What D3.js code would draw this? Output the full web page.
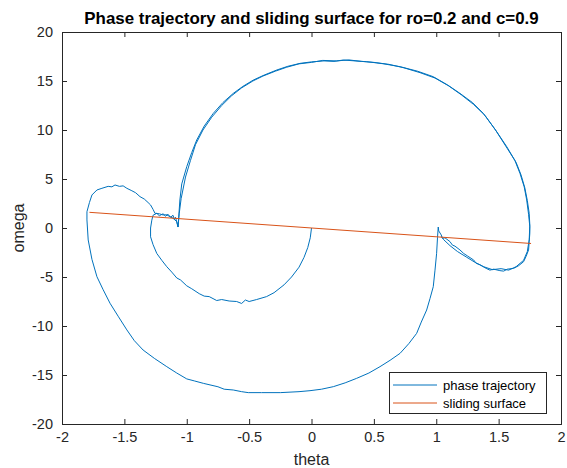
<!DOCTYPE html>
<html>
<head>
<meta charset="utf-8">
<script src="https://cdn.jsdelivr.net/npm/d3@7"></script>
<style>
  html, body { margin: 0; padding: 0; background: #fff; }
  svg { display: block; font-family: "Liberation Sans", Arial, Helvetica, sans-serif; }
</style>
</head>
<body>
<svg id="chart" width="567" height="468"></svg>
<script>
// ---- data ----
const titleText = "Phase trajectory and sliding surface for ro=0.2 and c=0.9";
const xLabel = "theta";
const yLabel = "omega";
const xTicks = [-2, -1.5, -1, -0.5, 0, 0.5, 1, 1.5, 2];
const yTicks = [-20, -15, -10, -5, 0, 5, 10, 15, 20];
const seriesNames = ["phase trajectory", "sliding surface"];

const surfaceTheta = [-1.78, 1.76];
const surfaceOmega = [1.60, -1.58];

// inner spiral from origin to the sliding surface
const innerTheta = [0.00,-0.01,-0.03,-0.06,-0.10,-0.16,-0.22,-0.30,-0.36,-0.44,-0.50,-0.53,-0.56,-0.60,-0.66,-0.72,-0.76,-0.82,-0.86,-0.90,-0.96,-1.00,-1.05,-1.08,-1.12,-1.16,-1.20,-1.24,-1.27,-1.29,-1.29,-1.28,-1.27,-1.24,-1.22,-1.19,-1.17,-1.15,-1.13,-1.11,-1.10,-1.09,-1.08,-1.07];
const innerOmega = [0.00,-1.0,-2.0,-3.0,-4.0,-5.0,-5.8,-6.6,-7.0,-7.3,-7.5,-7.35,-7.7,-7.5,-7.45,-7.3,-7.4,-7.0,-6.95,-6.7,-6.2,-5.9,-5.3,-5.1,-4.5,-3.95,-3.3,-2.6,-1.7,-0.9,0.0,0.8,1.3,1.5,1.25,1.45,1.2,1.4,1.1,1.3,0.9,1.1,0.6,0.1];

// big upper arc and right lobe
const arcTheta = [-1.07,-1.065,-1.055,-1.04,-1.00,-0.96,-0.92,-0.86,-0.787,-0.71,-0.627,-0.55,-0.466,-0.38,-0.279,-0.19,-0.092,0.00,0.10,0.18,0.255,0.35,0.44,0.52,0.58,0.71,0.85,0.976,1.09,1.19,1.29,1.377,1.47,1.565,1.63,1.671,1.705,1.725,1.74,1.75,1.75,1.745,1.74,1.72,1.70,1.66,1.62,1.57,1.54,1.51,1.46,1.43,1.40,1.35,1.32,1.30,1.25,1.22,1.19,1.15,1.13,1.11,1.07,1.05,1.04,1.02,1.016];
const arcOmega = [0.10,1.0,2.86,4.5,6.26,7.7,8.98,10.4,11.7,12.8,13.74,14.45,15.1,15.6,16.12,16.5,16.8,16.95,17.05,17.0,17.14,17.05,16.97,16.85,16.75,16.46,16.0,15.44,14.6,13.74,12.8,11.7,10.1,8.3,6.9,5.58,4.2,2.86,1.4,0.13,-0.54,-1.4,-2.24,-2.9,-3.44,-3.85,-4.12,-4.2,-4.4,-4.35,-4.2,-4.3,-4.12,-3.75,-3.6,-3.27,-2.85,-2.6,-2.24,-1.85,-1.75,-1.39,-1.0,-1.05,-0.71,-0.3,0.1];

// big lower arc and left lobe
const lowerTheta = [1.016,1.010,1.003,0.99,0.976,0.95,0.923,0.88,0.843,0.78,0.71,0.63,0.549,0.46,0.362,0.27,0.175,0.08,-0.012,-0.10,-0.25,-0.40,-0.507,-0.56,-0.627,-0.70,-0.75,-0.867,-0.94,-1.00,-1.08,-1.16,-1.26,-1.35,-1.42,-1.48,-1.55,-1.615,-1.67,-1.72,-1.76,-1.79,-1.80,-1.80,-1.78,-1.76,-1.72,-1.68,-1.63,-1.60,-1.575,-1.54,-1.51,-1.48,-1.44,-1.41,-1.375,-1.34,-1.31,-1.29,-1.27,-1.255,-1.22,-1.19,-1.16,-1.135,-1.11,-1.08,-1.07];
const lowerOmega = [0.10,-1.0,-2.58,-4.3,-5.99,-7.2,-8.37,-9.6,-10.75,-11.8,-12.79,-13.5,-14.15,-14.8,-15.34,-15.8,-16.19,-16.45,-16.6,-16.7,-16.8,-16.8,-16.8,-16.7,-16.53,-16.45,-16.2,-15.85,-15.6,-15.4,-14.8,-14.15,-13.3,-12.45,-11.5,-10.4,-9.0,-7.68,-6.3,-4.97,-3.2,-1.22,0.82,1.66,2.6,3.37,3.88,4.05,4.25,4.2,4.39,4.25,4.3,4.05,3.8,3.6,3.2,2.95,2.6,2.35,1.9,1.5,1.45,1.33,1.35,1.15,1.0,0.65,0.13];

// second pass over the upper arc
const arc2Theta = [-1.07,-1.06,-1.045,-1.01,-0.97,-0.93,-0.87,-0.80,-0.72,-0.64,-0.56,-0.47,-0.39,-0.29,-0.20,-0.10,0.00,0.09,0.20,0.30,0.40,0.50,0.62,0.74,0.87,0.99,1.10,1.20,1.30,1.39,1.48,1.57,1.64,1.68,1.71,1.73,1.745,1.75,1.745,1.73,1.70,1.64,1.58,1.52,1.45,1.38,1.31,1.24,1.17,1.11,1.06,1.04];
const arc2Omega = [0.10,1.5,3.0,5.2,6.9,8.5,10.0,11.3,12.5,13.5,14.3,15.0,15.5,16.0,16.4,16.75,16.9,17.1,17.05,17.15,17.0,16.9,16.7,16.35,15.85,15.3,14.5,13.6,12.6,11.5,9.9,8.1,6.7,5.4,4.1,2.8,1.5,0.3,-1.2,-2.4,-3.3,-3.95,-4.3,-4.15,-4.25,-3.95,-3.5,-2.95,-2.4,-1.8,-1.2,-0.85];

// ---- layout ----
const W = 567, H = 468;
const margin = {left: 62, right: 6, top: 32, bottom: 44};
const iw = W - margin.left - margin.right;
const ih = H - margin.top - margin.bottom;
const axisColor = "#262626";
const blue = "#0072BD", orange = "#D95319";

const svg = d3.select("#chart");
const x = d3.scaleLinear().domain([-2, 2]).range([margin.left, margin.left + iw]);
const y = d3.scaleLinear().domain([-20, 20]).range([margin.top + ih, margin.top]);

svg.append("clipPath").attr("id", "clip")
  .append("rect").attr("x", margin.left).attr("y", margin.top).attr("width", iw).attr("height", ih);

const plot = svg.append("g").attr("clip-path", "url(#clip)");
const line = d3.line().x(d => x(d[0])).y(d => y(d[1]));
const zipPts = (a, b) => a.map((v, i) => [v, b[i]]);

const trajSegments = [
  zipPts(innerTheta, innerOmega),
  zipPts(arcTheta, arcOmega),
  zipPts(lowerTheta, lowerOmega),
  zipPts(arc2Theta, arc2Omega)
];
trajSegments.forEach(seg => {
  plot.append("path").attr("d", line(seg)).attr("fill", "none")
    .attr("stroke", blue).attr("stroke-width", 1).attr("stroke-linejoin", "round");
});
plot.append("path").attr("d", line(zipPts(surfaceTheta, surfaceOmega))).attr("fill", "none")
  .attr("stroke", orange).attr("stroke-width", 1);

// axes (MATLAB style: ticks inward on all four sides)
const tl = 5;
const gx = svg.append("g").attr("transform", `translate(0,${margin.top + ih})`)
  .call(d3.axisBottom(x).tickValues(xTicks).tickSize(-tl).tickPadding(8).tickFormat(d => String(d)));
const gxt = svg.append("g").attr("transform", `translate(0,${margin.top})`)
  .call(d3.axisTop(x).tickValues(xTicks).tickSize(-tl).tickFormat(""));
const gy = svg.append("g").attr("transform", `translate(${margin.left},0)`)
  .call(d3.axisLeft(y).tickValues(yTicks).tickSize(-tl).tickPadding(9).tickFormat(d => String(d)));
const gyr = svg.append("g").attr("transform", `translate(${margin.left + iw},0)`)
  .call(d3.axisRight(y).tickValues(yTicks).tickSize(-tl).tickFormat(""));
[gx, gxt, gy, gyr].forEach(g => {
  g.select(".domain").attr("stroke", axisColor).attr("stroke-width", 1);
  g.selectAll(".tick line").attr("stroke", axisColor).attr("stroke-width", 1);
  g.selectAll(".tick text").attr("fill", axisColor).attr("font-size", 14.5)
    .attr("font-family", "'Liberation Sans', Arial, sans-serif");
});

// title and labels
svg.append("text").attr("x", margin.left + iw / 2).attr("y", 24).attr("text-anchor", "middle")
  .attr("font-size", 16.9).attr("font-weight", "bold").attr("fill", "#000").text(titleText);
svg.append("text").attr("x", margin.left + iw / 2).attr("y", 465).attr("text-anchor", "middle")
  .attr("font-size", 16).attr("fill", axisColor).text(xLabel);
svg.append("text").attr("transform", `translate(24,${margin.top + ih / 2}) rotate(-90)`)
  .attr("text-anchor", "middle").attr("font-size", 16).attr("fill", axisColor).text(yLabel);

// legend
const lg = svg.append("g");
lg.append("rect").attr("x", 389.5).attr("y", 372.5).attr("width", 157).attr("height", 41)
  .attr("fill", "#fff").attr("stroke", axisColor).attr("stroke-width", 1);
const legendColors = [blue, orange];
seriesNames.forEach((name, i) => {
  const yy = 385 + i * 18;
  lg.append("line").attr("x1", 393).attr("x2", 437).attr("y1", yy).attr("y2", yy)
    .attr("stroke", legendColors[i]).attr("stroke-width", 1);
  lg.append("text").attr("x", 443).attr("y", yy + 4.5).attr("font-size", 13)
    .attr("fill", "#000").text(name);
});
</script>
</body>
</html>
